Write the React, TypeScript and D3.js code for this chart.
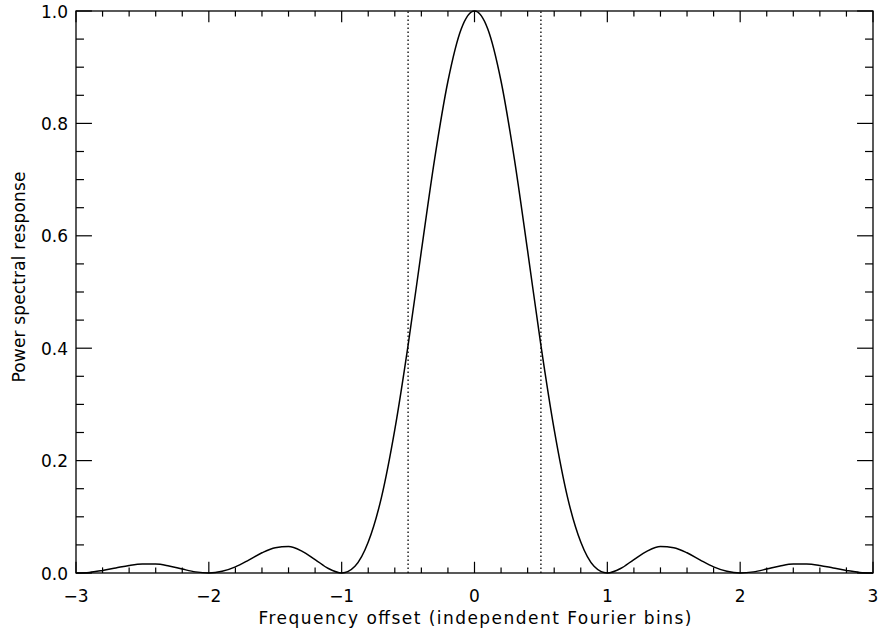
import React from "react";
import * as d3 from "d3";

// Frequency offset (bins) and power spectral response
const xValues = [
  -3.0, -2.9, -2.8, -2.7, -2.6, -2.5, -2.4, -2.3, -2.2, -2.1,
  -2.0, -1.9, -1.8, -1.7, -1.6, -1.5, -1.4, -1.3, -1.2, -1.1,
  -1.0, -0.9, -0.8, -0.7, -0.6, -0.5, -0.4, -0.3, -0.2, -0.1,
  0.0, 0.1, 0.2, 0.3, 0.4, 0.5, 0.6, 0.7, 0.8, 0.9,
  1.0, 1.1, 1.2, 1.3, 1.4, 1.5, 1.6, 1.7, 1.8, 1.9,
  2.0, 2.1, 2.2, 2.3, 2.4, 2.5, 2.6, 2.7, 2.8, 2.9, 3.0,
];
const responseValues = [
  0.0, 0.001, 0.0045, 0.009, 0.0135, 0.016, 0.016, 0.0125, 0.007, 0.002,
  0.0, 0.003, 0.011, 0.023, 0.036, 0.045, 0.047, 0.039, 0.024, 0.008,
  0.0, 0.012, 0.055, 0.135, 0.255, 0.405, 0.573, 0.737, 0.875, 0.968,
  1.0, 0.968, 0.875, 0.737, 0.573, 0.405, 0.255, 0.135, 0.055, 0.012,
  0.0, 0.008, 0.024, 0.039, 0.047, 0.045, 0.036, 0.023, 0.011, 0.003,
  0.0, 0.002, 0.007, 0.0125, 0.016, 0.016, 0.0135, 0.009, 0.0045, 0.001, 0.0,
];
const xTickLabels = ["\u22123", "\u22122", "\u22121", "0", "1", "2", "3"];
const xTickValues = [-3, -2, -1, 0, 1, 2, 3];
const yTickLabels = ["0.0", "0.2", "0.4", "0.6", "0.8", "1.0"];
const yTickValues = [0, 0.2, 0.4, 0.6, 0.8, 1.0];
const markerLines = [-0.5, 0.5];

const W = 879;
const H = 633;
const M = { left: 76, right: 6, top: 11, bottom: 60 };
const FONT = "'DejaVu Sans', sans-serif";

export default function App() {
  const x = d3.scaleLinear().domain([-3, 3]).range([M.left, W - M.right]);
  const y = d3.scaleLinear().domain([0, 1]).range([H - M.bottom, M.top]);
  const pw = W - M.right - M.left;
  const ph = H - M.bottom - M.top;
  const xMajLen = 0.02 * ph;
  const yMajLen = 0.02 * pw;

  const data = xValues.map((v, i) => [v, responseValues[i]] as [number, number]);
  const line = d3
    .line<[number, number]>()
    .x((d) => x(d[0]))
    .y((d) => y(d[1]))
    .curve(d3.curveMonotoneX);

  const xMinor = d3.range(-3, 3.0001, 0.2).map((v) => +v.toFixed(2));
  const yMinor = d3.range(0, 1.0001, 0.05).map((v) => +v.toFixed(2));
  const isMajX = (v: number) => Math.abs(v - Math.round(v)) < 1e-6;
  const isMajY = (v: number) => Math.abs(v * 5 - Math.round(v * 5)) < 1e-6;

  const x0 = M.left;
  const x1 = W - M.right;
  const y0 = H - M.bottom;
  const y1 = M.top;

  return (
    <svg
      width={W}
      height={H}
      style={{ position: "absolute", left: 0, top: 0, background: "#fff" }}
    >
      <rect x={0} y={0} width={W} height={H} fill="#fff" />
      {/* frame */}
      <rect x={x0} y={y1} width={pw} height={ph} fill="none" stroke="#000" strokeWidth={1.3} />
      {/* x ticks bottom and top */}
      {xMinor.map((v, i) => {
        const len = isMajX(v) ? xMajLen : xMajLen / 2;
        return (
          <g key={"xt" + i} stroke="#000" strokeWidth={1.2}>
            <line x1={x(v)} x2={x(v)} y1={y0} y2={y0 - len} />
            <line x1={x(v)} x2={x(v)} y1={y1} y2={y1 + len} />
          </g>
        );
      })}
      {yMinor.map((v, i) => {
        const len = isMajY(v) ? yMajLen : yMajLen / 2;
        return (
          <g key={"yt" + i} stroke="#000" strokeWidth={1.2}>
            <line x1={x0} x2={x0 + len} y1={y(v)} y2={y(v)} />
            <line x1={x1} x2={x1 - len} y1={y(v)} y2={y(v)} />
          </g>
        );
      })}
      {/* dotted markers */}
      {markerLines.map((v, i) => (
        <line
          key={"m" + i}
          x1={x(v)}
          x2={x(v)}
          y1={y0}
          y2={y1}
          stroke="#000"
          strokeWidth={1.3}
          strokeDasharray="1.5,2.5"
        />
      ))}
      {/* curve */}
      <path d={line(data) || ""} fill="none" stroke="#000" strokeWidth={1.5} />
      {/* tick labels */}
      {xTickValues.map((v, i) => (
        <text
          key={"xl" + i}
          x={x(v)}
          y={602}
          textAnchor="middle"
          fontFamily={FONT}
          fontSize={17}
          fill="#000"
        >
          {xTickLabels[i]}
        </text>
      ))}
      {yTickValues.map((v, i) => (
        <text
          key={"yl" + i}
          x={68}
          y={y(v) + 6.5}
          textAnchor="end"
          fontFamily={FONT}
          fontSize={17}
          fill="#000"
        >
          {yTickLabels[i]}
        </text>
      ))}
      <text
        x={475}
        y={624}
        textAnchor="middle"
        fontFamily={FONT}
        fontSize={17}
        textLength={433}
        lengthAdjust="spacing"
        fill="#000"
      >
        Frequency offset (independent Fourier bins)
      </text>
      <text
        transform={`translate(25, 277) rotate(-90)`}
        textAnchor="middle"
        fontFamily={FONT}
        fontSize={17}
        textLength={211}
        lengthAdjust="spacing"
        fill="#000"
      >
        Power spectral response
      </text>
    </svg>
  );
}
